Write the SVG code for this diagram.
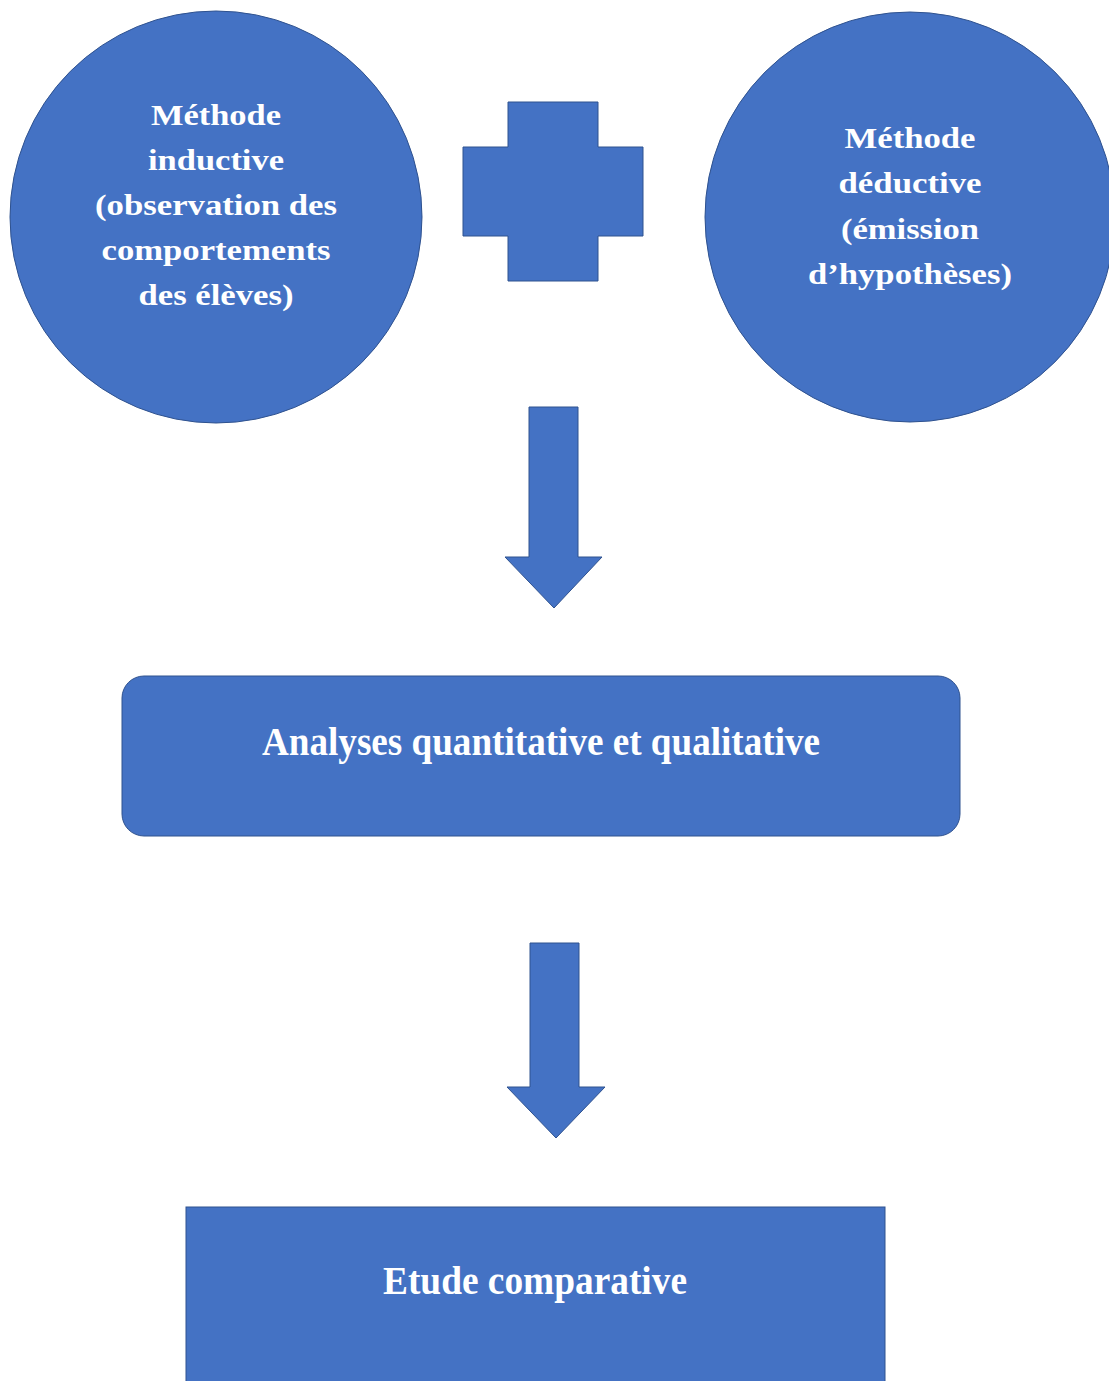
<svg xmlns="http://www.w3.org/2000/svg" width="1109" height="1381" viewBox="0 0 1109 1381">
  <style>
    .shape { fill: #4472C4; stroke: #2F528F; stroke-width: 1; }
    .lbl { font-family: "Liberation Serif", "Times New Roman", serif; font-weight: bold; fill: #FFFFFF; text-anchor: middle; }
    .c { font-size: 30px; }
    .b { font-size: 40px; }
  </style>
  <rect width="1109" height="1381" fill="#FFFFFF"/>

  <g id="node-inductive">
    <circle class="shape" cx="216" cy="217" r="206"/>
    <text class="lbl c" x="216" y="125" textLength="130" lengthAdjust="spacingAndGlyphs">Méthode</text>
    <text class="lbl c" x="216" y="170" textLength="136" lengthAdjust="spacingAndGlyphs">inductive</text>
    <text class="lbl c" x="216" y="215" textLength="242" lengthAdjust="spacingAndGlyphs">(observation des</text>
    <text class="lbl c" x="216" y="260" textLength="229" lengthAdjust="spacingAndGlyphs">comportements</text>
    <text class="lbl c" x="216" y="305" textLength="155" lengthAdjust="spacingAndGlyphs">des élèves)</text>
  </g>

  <g id="node-plus">
    <polygon class="shape" points="508,102 598,102 598,147 643,147 643,236 598,236 598,281 508,281 508,236 463,236 463,147 508,147"/>
  </g>

  <g id="node-deductive">
    <circle class="shape" cx="910" cy="217" r="205"/>
    <text class="lbl c" x="910" y="148" textLength="131" lengthAdjust="spacingAndGlyphs">Méthode</text>
    <text class="lbl c" x="910" y="193" textLength="143" lengthAdjust="spacingAndGlyphs">déductive</text>
    <text class="lbl c" x="910" y="239" textLength="138" lengthAdjust="spacingAndGlyphs">(émission</text>
    <text class="lbl c" x="910" y="284" textLength="204" lengthAdjust="spacingAndGlyphs">d’hypothèses)</text>
  </g>

  <g id="connectors">
    <polygon class="shape" points="529,407 578,407 578,557 602,557 554,608 505,557 529,557"/>
    <polygon class="shape" points="530,943 579,943 579,1087 605,1087 556,1138 507,1087 530,1087"/>
  </g>

  <g id="node-analyses">
    <rect class="shape" x="122" y="676" width="838" height="160" rx="22" ry="22"/>
    <text class="lbl b" x="541" y="755" textLength="558" lengthAdjust="spacingAndGlyphs">Analyses quantitative et qualitative</text>
  </g>

  <g id="node-etude">
    <rect class="shape" x="186" y="1207" width="699" height="190"/>
    <text class="lbl b" x="535" y="1294" textLength="304" lengthAdjust="spacingAndGlyphs">Etude comparative</text>
  </g>
</svg>
